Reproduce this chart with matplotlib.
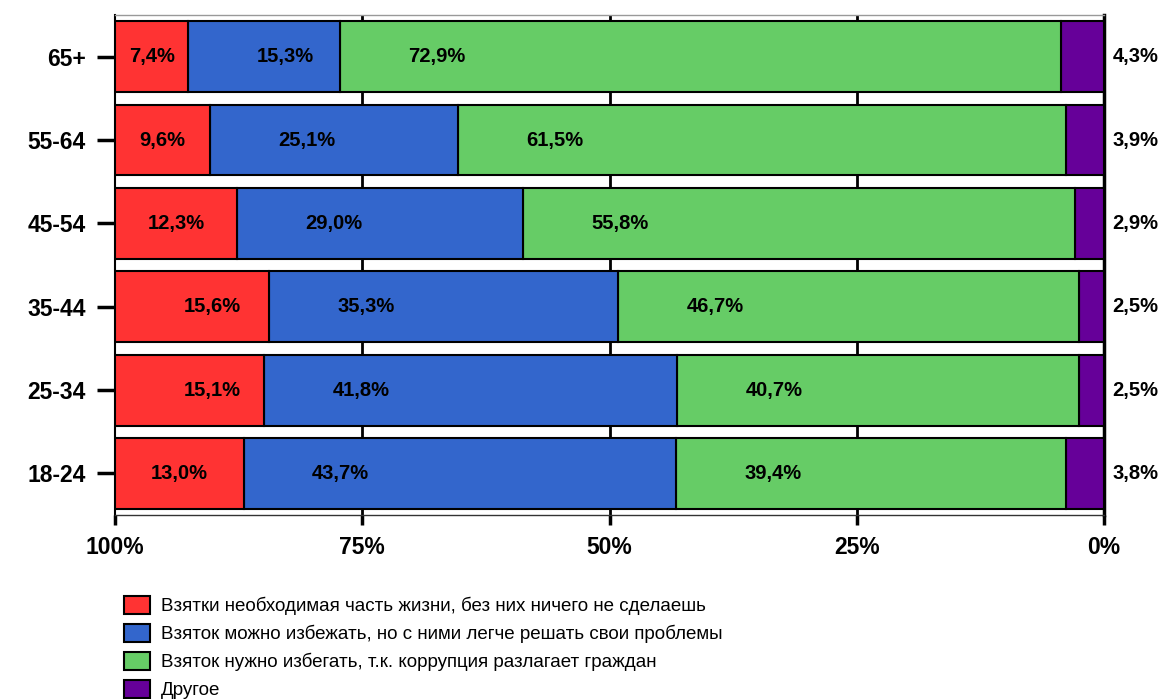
import numpy as np
import matplotlib.pyplot as plt

ages = ['65+', '55-64', '45-54', '35-44', '25-34', '18-24']
red = [7.4, 9.6, 12.3, 15.6, 15.1, 13.0]
blue = [15.3, 25.1, 29.0, 35.3, 41.8, 43.7]
green = [72.9, 61.5, 55.8, 46.7, 40.7, 39.4]
purple = [4.3, 3.9, 2.9, 2.5, 2.5, 3.8]
names = ['Взятки необходимая часть жизни, без них ничего не сделаешь',
         'Взяток можно избежать, но с ними легче решать свои проблемы',
         'Взяток нужно избегать, т.к. коррупция разлагает граждан',
         'Другое']
colors = ['#FF3333', '#3366CC', '#66CC66', '#660099']
xticks = [100, 75, 50, 25, 0]

plt.rcParams['font.family'] = ['Liberation Sans', 'DejaVu Sans']

fig = plt.figure(figsize=(11.63, 6.99), dpi=100)
ax = fig.add_axes([0.0989, 0.263, 0.8504, 0.7155])

series = [red, blue, green, purple]
arr = np.array(series, dtype=float)
tot = arr.sum(axis=0)
norm = arr / tot * 100
y = np.arange(len(ages))

# cumulative from the right (0%) towards the left (100%)
right = np.zeros(len(ages))
bounds = []
for k in [3, 2, 1, 0]:
    ax.barh(y, norm[k], left=right, height=0.85, color=colors[k],
            edgecolor='black', linewidth=1.5, zorder=3, label=names[k])
    bounds.append((k, right.copy(), right + norm[k]))
    right = right + norm[k]

for k, lo, hi in bounds:
    for i in range(len(ages)):
        v = series[k][i]
        txt = ('%.1f%%' % v).replace('.', ',')
        if k == 3:
            ax.text(1.032, 1 - (i + 0.5) / len(ages), txt, transform=ax.transAxes,
                    ha='center', va='center', fontsize=14.5, fontweight='bold')
            continue
        w = hi[i] - lo[i]
        off = w / 2 if w < 14 else 9.8
        ax.text(hi[i] - off, y[i], txt, ha='center', va='center',
                fontsize=14.5, fontweight='bold', zorder=5)

ax.set_xlim(100, 0)
ax.set_ylim(len(ages) - 0.5, -0.5)
ax.set_xticks(xticks)
ax.set_xticklabels(['%d%%' % t for t in xticks], fontsize=16.5, fontweight='bold')
ax.set_yticks(y)
ax.set_yticklabels(ages, fontsize=16.5, fontweight='bold')
ax.tick_params(axis='x', length=7, width=2.5, pad=8)
ax.tick_params(axis='y', length=13, width=2.5, pad=8)
for t in [75, 50, 25]:
    ax.axvline(t, color='black', lw=2, zorder=1)

ax.spines['top'].set_color('#999999')
ax.spines['top'].set_linewidth(1)
ax.spines['bottom'].set_color('#333333')
ax.spines['bottom'].set_linewidth(1)
ax.spines['left'].set_linewidth(1.5)
ax.spines['right'].set_linewidth(2.5)

handles, labels = ax.get_legend_handles_labels()
order = [3, 2, 1, 0]
fig.legend([handles[i] for i in order], [labels[i] for i in order],
           loc='upper left', bbox_to_anchor=(0.107, 0.148), frameon=False,
           fontsize=13.5, handlelength=1.35, handleheight=1.15, handletextpad=0.6,
           labelspacing=0.45, borderpad=0, borderaxespad=0)

fig.savefig('out.png', dpi=100)
